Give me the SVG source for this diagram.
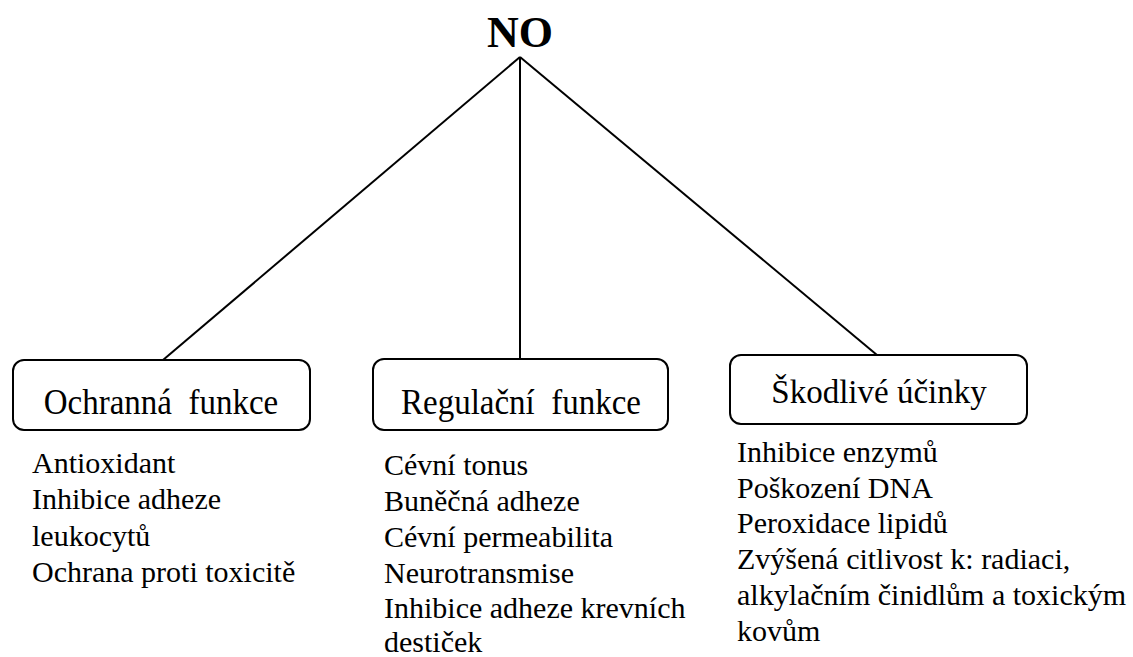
<svg xmlns="http://www.w3.org/2000/svg" width="1133" height="657" viewBox="0 0 1133 657">
  <style>
    .title { font-family: "Liberation Serif", "Times New Roman", serif; font-weight: bold; font-size: 44px; fill: #000; }
    .box { fill: #fff; stroke: #000; stroke-width: 2; }
    .label { font-family: "Liberation Serif", "Times New Roman", serif; font-size: 33px; fill: #000; text-anchor: middle; }
    .item { font-family: "Liberation Serif", "Times New Roman", serif; font-size: 30px; fill: #000; }
    .edge { stroke: #000; stroke-width: 2; fill: none; }
  </style>
  <rect width="1133" height="657" fill="#fff"/>

  <!-- connectors from the root to each category -->
  <g id="connectors">
    <line class="edge" x1="520" y1="57" x2="163" y2="360"/>
    <line class="edge" x1="520" y1="57" x2="520" y2="359"/>
    <line class="edge" x1="520" y1="57" x2="877" y2="355"/>
  </g>

  <g id="root">
    <text class="title" x="520" y="47" text-anchor="middle">NO</text>
  </g>

  <g id="ochranna">
    <rect class="box" x="13" y="360" width="297" height="70" rx="11"/>
    <text class="label" transform="translate(161,414) scale(1,1.1)" xml:space="preserve">Ochranná  funkce</text>
    <text class="item">
      <tspan x="32" y="473">Antioxidant</tspan>
      <tspan x="32" y="509">Inhibice adheze</tspan>
      <tspan x="32" y="546">leukocytů</tspan>
      <tspan x="32" y="582">Ochrana proti toxicitě</tspan>
    </text>
  </g>

  <g id="regulacni">
    <rect class="box" x="373" y="359" width="295" height="71" rx="11"/>
    <text class="label" transform="translate(521,414) scale(1,1.1)" xml:space="preserve">Regulační  funkce</text>
    <text class="item">
      <tspan x="384" y="475">Cévní tonus</tspan>
      <tspan x="384" y="511">Buněčná adheze</tspan>
      <tspan x="384" y="547">Cévní permeabilita</tspan>
      <tspan x="384" y="583">Neurotransmise</tspan>
      <tspan x="384" y="618">Inhibice adheze krevních</tspan>
      <tspan x="384" y="652">destiček</tspan>
    </text>
  </g>

  <g id="skodlive">
    <rect class="box" x="730" y="355" width="297" height="69" rx="11"/>
    <text class="label" transform="translate(879,403) scale(1,1.05)">Škodlivé účinky</text>
    <text class="item">
      <tspan x="737" y="462">Inhibice enzymů</tspan>
      <tspan x="737" y="498">Poškození DNA</tspan>
      <tspan x="737" y="533">Peroxidace lipidů</tspan>
      <tspan x="737" y="569">Zvýšená citlivost k: radiaci,</tspan>
      <tspan x="737" y="605">alkylačním činidlům a toxickým</tspan>
      <tspan x="737" y="641">kovům</tspan>
    </text>
  </g>
</svg>
